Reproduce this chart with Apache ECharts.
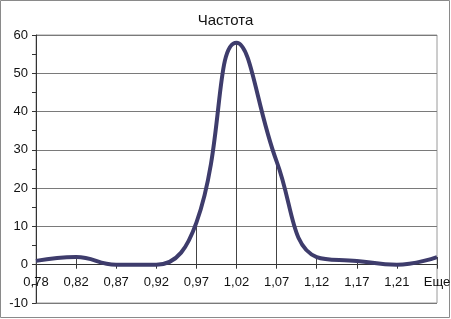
<!DOCTYPE html>
<html>
<head>
<meta charset="utf-8">
<script src="https://cdn.jsdelivr.net/npm/echarts@6/dist/echarts.min.js"></script>
<style>
  html, body { margin: 0; padding: 0; background: #fff; }
  #main { width: 451px; height: 319px; }
</style>
</head>
<body>
<div id="main"></div>
<script>
const categories = ['0,78', '0,82', '0,87', '0,92', '0,97', '1,02', '1,07', '1,12', '1,17', '1,21', 'Еще'];
const frequency = [1, 2, 0, 0, 11, 58, 27, 2, 1, 0, 2];
const yMin = -10;
const yMax = 60;
const yStep = 10;

const chart = echarts.init(document.getElementById('main'));
const font = 'Arial, "Liberation Sans", sans-serif';

const gridTop = 35;
const gridBottom = 16;
const plotHeight = 319 - gridTop - gridBottom;
// the category axis sits on the zero line, labels included
const zeroOffset = -plotHeight * (0 - yMin) / (yMax - yMin);

// drop lines from every point down to zero
const dropLines = frequency.map((v, i) => [
  { coord: [i, v] },
  { coord: [i, 0] }
]);

chart.setOption({
  animation: false,
  backgroundColor: '#fff',
  title: {
    text: 'Частота',
    left: 'center',
    top: 8,
    textStyle: { fontFamily: font, fontSize: 15, fontWeight: 'normal', color: '#111' }
  },
  graphic: [{
    type: 'rect',
    shape: { x: 0.5, y: 0.5, width: 449, height: 317 },
    style: { fill: 'none', stroke: '#8a8a8a', lineWidth: 1 },
    silent: true
  }],
  grid: {
    left: 36, right: 14, top: gridTop, bottom: gridBottom,
    containLabel: false,
    outerBoundsMode: 'none',
    show: true, borderColor: '#9a9a9a', borderWidth: 1
  },
  xAxis: {
    type: 'category',
    data: categories,
    boundaryGap: false,
    offset: zeroOffset,
    axisLine: { onZero: false, lineStyle: { color: '#333', width: 1 } },
    axisTick: { show: true, length: 4, lineStyle: { color: '#333' } },
    axisLabel: { fontFamily: font, fontSize: 13, color: '#111', margin: 11, interval: 0 },
    splitLine: { show: false }
  },
  yAxis: {
    type: 'value',
    min: yMin,
    max: yMax,
    interval: yStep,
    axisLine: { show: true, onZero: false, lineStyle: { color: '#333', width: 1 } },
    axisTick: { show: true, length: 4, lineStyle: { color: '#333' } },
    minorTick: { show: true, splitNumber: 2, length: 4, lineStyle: { color: '#333' } },
    axisLabel: { fontFamily: font, fontSize: 13, color: '#111', margin: 8 },
    splitLine: { show: true, lineStyle: { color: '#7a7a7a', width: 1 } }
  },
  series: [{
    type: 'line',
    data: frequency,
    smooth: 0.45,
    symbol: 'none',
    lineStyle: { color: '#3e3c6c', width: 4 },
    markLine: {
      silent: true,
      symbol: 'none',
      label: { show: false },
      lineStyle: { color: '#444', width: 1, type: 'solid' },
      z: 1,
      data: dropLines
    }
  }]
});
</script>
</body>
</html>
